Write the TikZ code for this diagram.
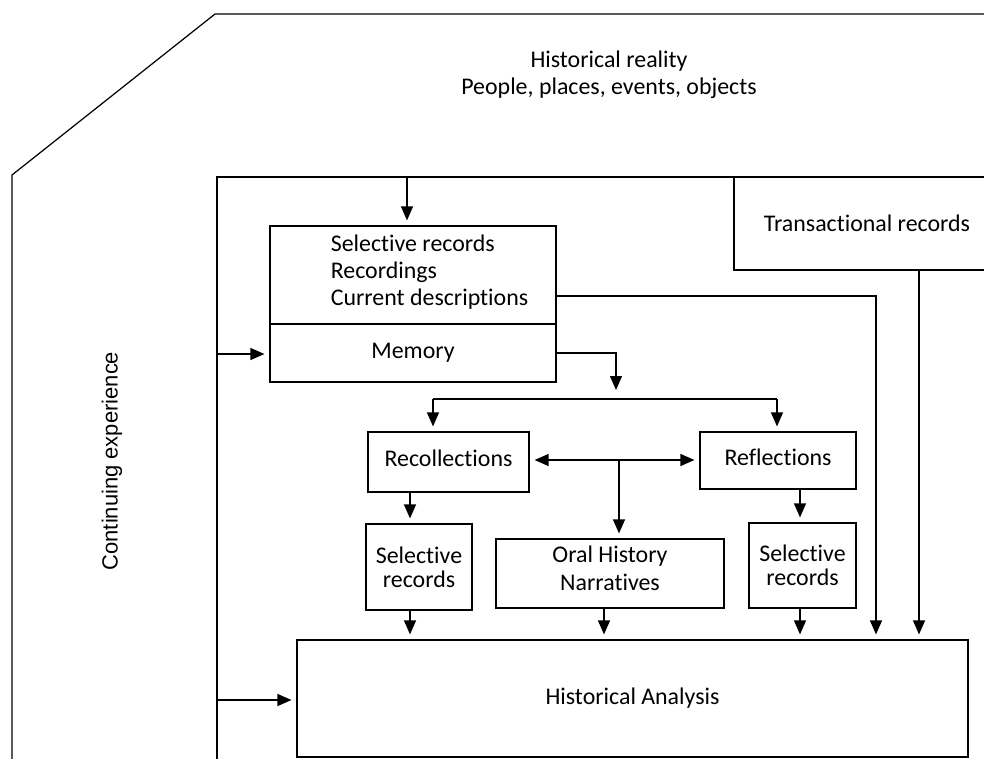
\documentclass[tikz,border=0pt]{standalone}
\usepackage{fontspec}
\setmainfont{Carlito}[Ligatures=NoCommon]
\newfontfamily\sidefont{Liberation Sans}
\usetikzlibrary{arrows.meta}

\begin{document}
\begin{tikzpicture}[
    x=0.02cm, y=-0.02cm,
    line width=0.7pt,
    box/.style={rectangle,draw,inner sep=0pt,align=center,font=\fontsize{13.6}{13.8}\selectfont},
    txt/.style={inner sep=0pt,align=center,font=\fontsize{13.6}{15.2}\selectfont},
    flow/.style={-{Triangle[length=2.8mm,width=2.4mm]},shorten >=1mm}
]
\useasboundingbox (0,0) rectangle (984,758);

% frames
\draw (12,770) -- (12,175) -- (215,14) -- (1000,14);
\draw (217,770) -- (217,177) -- (1000,177);

\node[txt] (real) at (609,75) {Historical reality\\People, places, events, objects};
\node[txt,rotate=90,font=\sidefont\fontsize{12.5}{14}\selectfont] (cont) at (112,461) {Continuing experience};

\node[box,minimum width=5.32cm,minimum height=1.86cm] (trans) at (867,223.5) {Transactional records};
\node[box,minimum width=5.72cm,minimum height=1.96cm] (sel) at (413,275) {};
\node[txt,align=left] (seltxt) at (429.5,272) {Selective records\\Recordings\\Current descriptions};
\node[box,minimum width=5.72cm,minimum height=1.16cm] (mem) at (413,353) {Memory};
\node[box,minimum width=3.22cm,minimum height=1.2cm,text depth=4pt] (rec) at (448.5,462) {Recollections};
\node[box,minimum width=3.12cm,minimum height=1.14cm,text depth=4pt] (ref) at (778,460.5) {Reflections};
\node[box,minimum width=2.12cm,minimum height=1.72cm] (selL) at (419,567) {Selective\\records};
\node[box,minimum width=4.56cm,minimum height=1.38cm,text depth=6pt] (oral) at (610,573.5) {Oral History\\[2.6pt]Narratives};
\node[box,minimum width=2.14cm,minimum height=1.7cm] (selR) at (802.5,565.5) {Selective\\records};
\node[box,minimum width=13.42cm,minimum height=2.34cm] (ana) at (632.5,698.5) {Historical Analysis};

\coordinate (ftop) at (407,177);
\coordinate (fmem) at (217,354);
\coordinate (fana) at (217,700);
\coordinate (split) at (616,399);
\coordinate (mid) at (619,460);

\draw[flow] (ftop) -- (ftop |- sel.north);
\draw[flow] (fmem) -- (mem.west |- fmem);
\draw[flow] (fana) -- (ana.west |- fana);
\draw[flow] (sel.east |- 0,296) -| (ana.north -| 876,0);
\draw[flow] (trans.south -| 919,0) -- (ana.north -| 919,0);
\draw[flow,shorten >=1.8mm] (mem.east) -| (split);
\draw (433,399) -- (777,399);
\draw[flow] (433,399) -- (rec.north -| 433,0);
\draw[flow] (777,399) -- (ref.north -| 777,0);
\draw[flow] (mid) -- (rec.east |- mid);
\draw[flow] (mid) -- (ref.west |- mid);
\draw[flow] (mid) -- (oral.north -| mid);
\draw[flow] (rec.south -| 410,0) -- (selL.north -| 410,0);
\draw[flow] (ref.south -| 800,0) -- (selR.north -| 800,0);
\draw[flow] (selL.south -| 410,0) -- (ana.north -| 410,0);
\draw[flow] (oral.south -| 604,0) -- (ana.north -| 604,0);
\draw[flow] (selR.south -| 800,0) -- (ana.north -| 800,0);
\end{tikzpicture}
\end{document}
